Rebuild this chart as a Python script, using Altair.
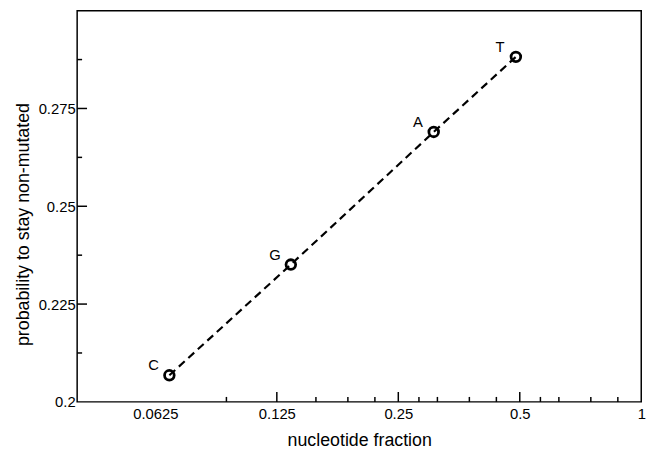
import altair as alt
import pandas as pd

# data
nucleotides = ["C", "G", "A", "T"]
fractions = [0.0677, 0.1354, 0.306, 0.489]
probabilities = [0.2068, 0.2351, 0.269, 0.2882]

x_major = [0.0625, 0.125, 0.25, 0.5, 1]
x_minor = [0.09375, 0.15625, 0.1875, 0.21875, 0.28125, 0.3125, 0.375, 0.4375,
           0.5625, 0.625, 0.75, 0.875]
y_major = [0.2, 0.225, 0.25, 0.275]
y_minor = [0.2125, 0.2375, 0.2625, 0.2875]

W, H = 571, 396

df = pd.DataFrame({"n": nucleotides, "f": fractions, "p": probabilities})
xmaj = pd.DataFrame({"v": x_major[1:-1]})
xmin = pd.DataFrame({"v": x_minor})
ymaj = pd.DataFrame({"v": y_major[1:]})
ymin = pd.DataFrame({"v": y_minor})

FONT = "Liberation Sans"

xscale = alt.Scale(type="log", base=2, domain=[0.04, 1], nice=False)
yscale = alt.Scale(domain=[0.2, 0.3], nice=False, zero=False)

xaxis = alt.Axis(values=x_major, labelExpr="format(datum.value, '~g')",
                 title="nucleotide fraction", domain=False, ticks=False, grid=False,
                 labelFontSize=15, titleFontSize=18, labelPadding=5, titlePadding=10,
                 labelFont=FONT, titleFont=FONT, labelColor="#000", titleColor="#000",
                 titleFontWeight="normal", labelFlush=False)
yaxis = alt.Axis(values=y_major, labelExpr="format(datum.value, '~g')",
                 title="probability to stay non-mutated", domain=False, ticks=False,
                 grid=False, labelFontSize=15, titleFontSize=18, labelPadding=2,
                 titlePadding=6, titleY=H / 2 + 18, labelFont=FONT, titleFont=FONT,
                 labelColor="#000", titleColor="#000", titleFontWeight="normal",
                 labelFlush=False)

line = alt.Chart(df).mark_line(color="black", strokeWidth=2.2, strokeDash=[8, 5]).encode(
    x=alt.X("f:Q", scale=xscale, axis=xaxis),
    y=alt.Y("p:Q", scale=yscale, axis=yaxis),
)
pts = alt.Chart(df).mark_point(shape="circle", filled=False, color="black",
                               strokeWidth=2.8, size=95, opacity=1).encode(
    x=alt.X("f:Q", scale=xscale), y=alt.Y("p:Q", scale=yscale))
labels = alt.Chart(df).mark_text(font=FONT, fontSize=15, color="black",
                                 dx=-16, dy=-10).encode(
    x=alt.X("f:Q", scale=xscale), y=alt.Y("p:Q", scale=yscale), text="n:N")

xt_major = alt.Chart(xmaj).mark_rule(color="black", strokeWidth=1.5).encode(
    x=alt.X("v:Q", scale=xscale), y=alt.value(H), y2=alt.value(H - 10))
xt_minor = alt.Chart(xmin).mark_rule(color="black", strokeWidth=1.5).encode(
    x=alt.X("v:Q", scale=xscale), y=alt.value(H), y2=alt.value(H - 5))
yt_major = alt.Chart(ymaj).mark_rule(color="black", strokeWidth=1.5).encode(
    y=alt.Y("v:Q", scale=yscale), x=alt.value(0), x2=alt.value(10))
yt_minor = alt.Chart(ymin).mark_rule(color="black", strokeWidth=1.5).encode(
    y=alt.Y("v:Q", scale=yscale), x=alt.value(0), x2=alt.value(5))

chart = alt.layer(line, xt_major, xt_minor, yt_major, yt_minor, pts, labels).properties(
    width=W, height=H,
    autosize=alt.AutoSizeParams(type="none"),
    padding={"left": 70, "top": 0, "right": 20, "bottom": 45},
).configure_view(stroke="black", strokeWidth=1.5)

chart.save("out.html", embed_options={"renderer": "svg", "actions": False})
